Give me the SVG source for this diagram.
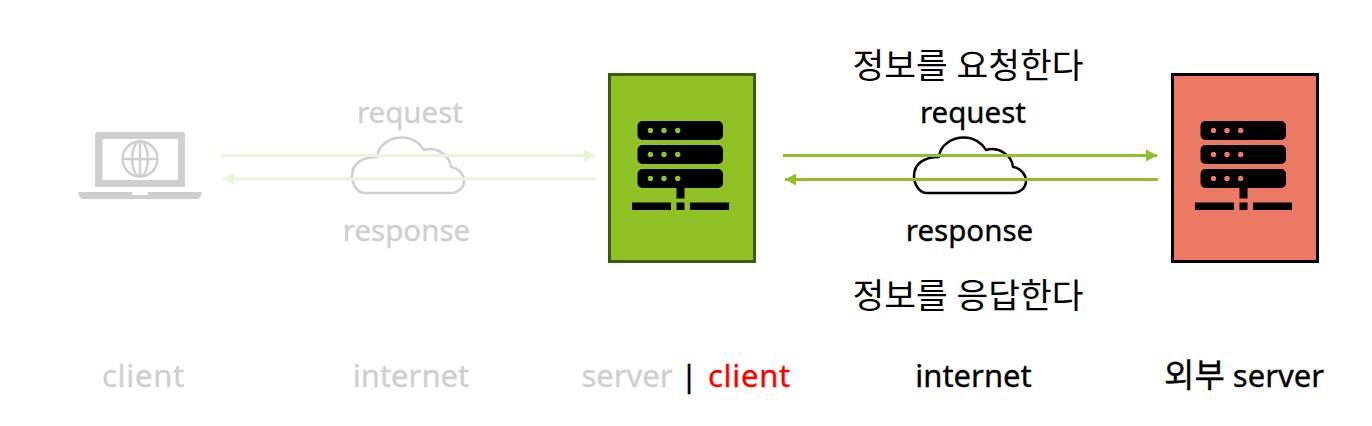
<svg xmlns="http://www.w3.org/2000/svg" width="1372" height="426" viewBox="0 0 1372 426">
<style>
text{font-family:"Noto Sans","Noto Sans CJK KR",sans-serif;font-size:29.500px;font-weight:400;text-anchor:middle;fill:#000;stroke:#000;stroke-width:.35px}
.g{fill:#cfcfcf;stroke:#cfcfcf}
.r{fill:#ff0000;stroke:#ff0000}
.ko{font-size:34.500px;stroke-width:0}
.b{font-size:31px}
.s{text-anchor:start;letter-spacing:.7px}
.green{stroke:#8fbf2a;stroke-width:3;fill:none}
.pale{stroke:#ecf4d8;stroke-width:3;fill:none}
.box{stroke-width:3}
</style>
<defs>
<marker id="ah" markerUnits="userSpaceOnUse" markerWidth="12" markerHeight="13" refX="11" refY="6.500" orient="auto"><path d="M0 0.500L11 6.500L0 12.500Z" fill="#8fbf2a"/></marker>
<marker id="ahp" markerUnits="userSpaceOnUse" markerWidth="12" markerHeight="13" refX="11" refY="6.500" orient="auto"><path d="M0 0.500L11 6.500L0 12.500Z" fill="#ecf4d8"/></marker>
<path id="cl" d="M365 193C357 193 352 184 352 176C352 163 363 157 377 157C378 145 390 137.500 402 137.500C412 137.500 420 143 424 150C436 146 450 155 451 167C459 168 464 175 464 181C464 188 458 193 450 193Z" fill="none" stroke-width="2.500" stroke-linejoin="round"/>
<g id="srv">
<rect x="637.500" y="121" width="85.500" height="19" rx="5"/>
<rect x="637.500" y="145" width="85.500" height="19" rx="5"/>
<rect x="637.500" y="169" width="85.500" height="19" rx="5"/>
<rect x="676.500" y="188" width="8" height="10.500"/>
<rect x="632" y="202.500" width="39" height="7.500"/>
<rect x="676.500" y="202.500" width="8" height="7.500"/>
<rect x="690" y="202.500" width="39" height="7.500"/>
</g>
<g id="dots">
<circle cx="650.500" cy="130.500" r="2.700"/><circle cx="664" cy="130.500" r="2.700"/><circle cx="677.700" cy="130.500" r="2.700"/>
<circle cx="650.500" cy="154.500" r="2.700"/><circle cx="664" cy="154.500" r="2.700"/><circle cx="677.700" cy="154.500" r="2.700"/>
<circle cx="650.500" cy="178.500" r="2.700"/><circle cx="664" cy="178.500" r="2.700"/><circle cx="677.700" cy="178.500" r="2.700"/>
</g>
</defs>
<rect width="1372" height="426" fill="#fff"/>
<g id="client-node">
<path d="M95 187V135a3 3 0 0 1 3-3H182a3 3 0 0 1 3 3V187ZM102.500 139V180H178V139Z" fill="#cfcfcf" fill-rule="evenodd"/>
<path d="M78.500 192H132V195H148V192H201.500V194a5 5 0 0 1-5 5H83.500a5 5 0 0 1-5-5Z" fill="#cfcfcf"/>
<g fill="none" stroke="#cfcfcf" stroke-width="2.400">
<circle cx="140" cy="159" r="17.500"/><ellipse cx="140" cy="159" rx="8" ry="17.500"/>
<path d="M122.500 159H157.500M140 141.500V176.500"/>
</g>
</g>
<g id="cloud-left"><use href="#cl" stroke="#cfcfcf"/></g>
<g id="cloud-right"><use href="#cl" x="562" stroke="#000"/></g>
<g id="connectors">
<path class="pale" d="M221 155.500H595" marker-end="url(#ahp)"/>
<path class="pale" d="M596 179H223" marker-end="url(#ahp)"/>
<path class="green" d="M783 155.500H1157" marker-end="url(#ah)"/>
<path class="green" d="M1158 179.500H785" marker-end="url(#ah)"/>
</g>
<g id="server-node">
<rect class="box" x="609.500" y="74.500" width="145" height="187" fill="#90c226" stroke="#3f5a10"/>
<use href="#srv" fill="#000"/><use href="#dots" fill="#90c226"/>
</g>
<g id="external-server-node">
<rect class="box" x="1172.500" y="74.500" width="145" height="187" fill="#ec7964" stroke="#000"/>
<use href="#srv" x="563" fill="#000"/><use href="#dots" x="563" fill="#ec7964"/>
</g>
<g id="labels">
<text class="g" x="410" y="123">request</text>
<text class="g" x="406.500" y="241">response</text>
<text class="ko" x="968" y="78">정보를 요청한다</text>
<text x="973" y="123">request</text>
<text x="969.500" y="241">response</text>
<text class="ko" x="968" y="308">정보를 응답한다</text>
<text class="g b s" x="102" y="387">client</text>
<text class="g b" x="411" y="387">internet</text>
<text class="g b" x="627" y="387">server</text>
<text class="b" x="689" y="387">|</text>
<text class="r b s" x="708" y="387">client</text>
<text class="b" x="973.500" y="387">internet</text>
<text class="b" x="1244" y="387"><tspan font-size="33">외부</tspan> server</text>
</g>
</svg>
